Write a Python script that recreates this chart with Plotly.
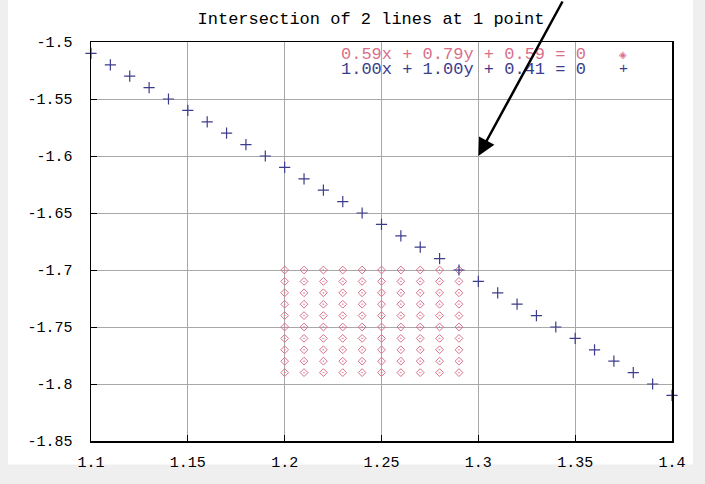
import plotly.graph_objects as go

# Line 1: 0.59x + 0.79y + 0.59 = 0  (grid of near-solutions, red diamonds)
red_x_cols = [1.20, 1.21, 1.22, 1.23, 1.24, 1.25, 1.26, 1.27, 1.28, 1.29]
red_y_rows = [-1.70, -1.71, -1.72, -1.73, -1.74, -1.75, -1.76, -1.77, -1.78, -1.79]

# Line 2: 1.00x + 1.00y + 0.41 = 0  (blue plus markers)
blue_x = [1.10, 1.11, 1.12, 1.13, 1.14, 1.15, 1.16, 1.17, 1.18, 1.19, 1.20,
          1.21, 1.22, 1.23, 1.24, 1.25, 1.26, 1.27, 1.28, 1.29, 1.30,
          1.31, 1.32, 1.33, 1.34, 1.35, 1.36, 1.37, 1.38, 1.39, 1.40]
blue_y = [-1.51, -1.52, -1.53, -1.54, -1.55, -1.56, -1.57, -1.58, -1.59, -1.60, -1.61,
          -1.62, -1.63, -1.64, -1.65, -1.66, -1.67, -1.68, -1.69, -1.70, -1.71,
          -1.72, -1.73, -1.74, -1.75, -1.76, -1.77, -1.78, -1.79, -1.80, -1.81]

x_ticks = [1.1, 1.15, 1.2, 1.25, 1.3, 1.35, 1.4]
x_tick_labels = ["1.1", "1.15", "1.2", "1.25", "1.3", "1.35", "1.4"]
y_ticks = [-1.5, -1.55, -1.6, -1.65, -1.7, -1.75, -1.8, -1.85]
y_tick_labels = ["-1.5", "-1.55", "-1.6", "-1.65", "-1.7", "-1.75", "-1.8", "-1.85"]

title_text = "Intersection of 2 lines at 1 point"
legend_red = "0.59x + 0.79y + 0.59 = 0"
legend_blue = "1.00x + 1.00y + 0.41 = 0"

RED = "#d9708a"
BLUE = "#3c3c8c"
MONO = "Liberation Mono, DejaVu Sans Mono, monospace"

red_x = [x for x in red_x_cols for _ in red_y_rows]
red_y = [y for _ in red_x_cols for y in red_y_rows]

fig = go.Figure()
fig.add_trace(go.Scatter(
    x=red_x, y=red_y, mode="markers",
    marker=dict(symbol="diamond-open-dot", size=6, color=RED, line=dict(width=1, color=RED)),
    showlegend=False, cliponaxis=False, hoverinfo="skip"))
fig.add_trace(go.Scatter(
    x=blue_x, y=blue_y, mode="markers",
    marker=dict(symbol="cross-thin-open", size=8, line=dict(width=1.2, color=BLUE), color=BLUE),
    showlegend=False, cliponaxis=False, hoverinfo="skip"))

axis_common = dict(
    showgrid=True, gridcolor="#a8a8a8", gridwidth=1,
    showline=True, linecolor="black", linewidth=1.5, mirror=True,
    ticks="inside", ticklen=6, tickcolor="black", tickwidth=1,
    zeroline=False,
    tickfont=dict(family=MONO, size=15, color="black"),
)

fig.update_layout(
    width=705, height=484,
    margin=dict(l=91, r=33, t=42, b=36),
    paper_bgcolor="#efefef",
    plot_bgcolor="white",
    xaxis=dict(range=[1.1, 1.4], tickvals=x_ticks, ticktext=x_tick_labels,
               ticklabelstandoff=6, **axis_common),
    yaxis=dict(range=[-1.85, -1.5], tickvals=y_ticks, ticktext=y_tick_labels,
               ticklabelstandoff=14, **axis_common),
    title=dict(text=title_text, x=(371 - 91) / 581, xref="paper", xanchor="center",
               y=1 - 18 / 484, yref="container", yanchor="middle",
               font=dict(family=MONO, size=17, color="black")),
    shapes=[dict(type="rect", xref="paper", yref="paper",
                 x0=-0.1429, x1=1.036, y0=-0.0591, y1=1.11,
                 fillcolor="white", line=dict(width=0), layer="below")],
    annotations=[
        dict(text=legend_red, xref="paper", yref="paper", x=(588 - 91) / 581,
             y=(448 - 55) / 406, xanchor="right", yanchor="middle", showarrow=False,
             font=dict(family=MONO, size=17, color=RED)),
        dict(text=legend_blue, xref="paper", yref="paper", x=(588 - 91) / 581,
             y=(448 - 70) / 406, xanchor="right", yanchor="middle", showarrow=False,
             font=dict(family=MONO, size=17, color=BLUE)),
        dict(text="◈", xref="paper", yref="paper", x=(623 - 91) / 581,
             y=(448 - 55) / 406, xanchor="center", yanchor="middle", showarrow=False,
             font=dict(family="DejaVu Sans", size=10, color=RED)),
        dict(text="+", xref="paper", yref="paper", x=(623 - 91) / 581,
             y=(448 - 70) / 406, xanchor="center", yanchor="middle", showarrow=False,
             font=dict(family=MONO, size=15, color=BLUE)),
        dict(text="", x=1.3, y=-1.6, xref="x", yref="y",
             ax=85, ay=-160, axref="pixel", ayref="pixel",
             showarrow=True, arrowhead=2, arrowsize=1.4, arrowwidth=2.5,
             arrowcolor="black"),
    ],
)

fig.write_html("out.html", config={"displayModeBar": False, "staticPlot": True},
               post_script="document.body.style.margin='0';document.body.style.overflow='hidden';")
